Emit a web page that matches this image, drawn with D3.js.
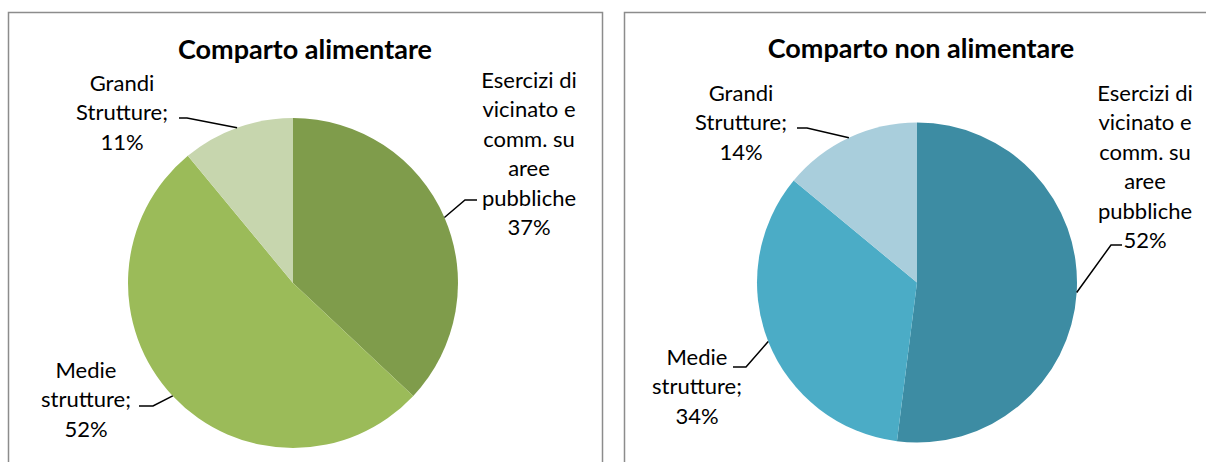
<!DOCTYPE html>
<html>
<head>
<meta charset="utf-8">
<script src="https://cdn.jsdelivr.net/npm/d3@7"></script>
<style>
  html, body { margin: 0; padding: 0; background: #fff; }
  svg { display: block; }
  .title { font-family: Lato, "Open Sans", sans-serif; font-weight: bold; font-size: 27px; fill: #000; }
  .label { font-family: Lato, "Open Sans", sans-serif; font-size: 22px; fill: #000; }
  .leader { fill: none; stroke: #000; stroke-width: 1.5; }
  .frame { fill: #fff; stroke: #8c8c8c; stroke-width: 1.5; }
</style>
</head>
<body>
<div id="chart"></div>
<script>
// data
const categories = ['Esercizi di vicinato e comm. su aree pubbliche', 'Medie strutture', 'Grandi Strutture'];
const labelLines = [
  ['Esercizi di', 'vicinato e', 'comm. su', 'aree', 'pubbliche'],
  ['Medie', 'strutture;'],
  ['Grandi', 'Strutture;']
];
const titles = ['Comparto alimentare', 'Comparto non alimentare'];
const alimentare = [37, 52, 11];
const nonAlimentare = [52, 34, 14];

const greens = ['#7f9c4b', '#9bbb59', '#c7d6ae'];
const blues = ['#3d8ca3', '#4bacc6', '#a9cedc'];

const W = 1206, H = 462;

// layout for each panel (positions only)
const panels = [
  {
    values: alimentare, colors: greens, title: titles[0],
    box: [8.5, 12.5, 594, 470], titleX: 305, titleY: 59,
    cx: 293, cy: 283, r: 165,
    labels: [
      { x: 529, y: 80, elbow: [465, 200], end: [477, 200] },
      { x: 86, y: 370, elbow: [153, 406], end: [139, 406] },
      { x: 122, y: 83, elbow: [187, 118], end: [179, 118] }
    ]
  },
  {
    values: nonAlimentare, colors: blues, title: titles[1],
    box: [624.5, 12.5, 600, 470], titleX: 921, titleY: 58,
    cx: 917, cy: 282.5, r: 160,
    labels: [
      { x: 1145, y: 93, elbow: [1111, 245], end: [1122, 245] },
      { x: 697, y: 357, elbow: [746, 367], end: [733, 367] },
      { x: 741, y: 93, elbow: [807, 128], end: [797, 128] }
    ]
  }
];

const svg = d3.select('#chart').append('svg')
  .attr('width', W)
  .attr('height', H);

const pie = d3.pie().sort(null).value(d => d);
const lineH = 29.5;

panels.forEach(p => {
  const g = svg.append('g');

  g.append('rect')
    .attr('class', 'frame')
    .attr('x', p.box[0]).attr('y', p.box[1])
    .attr('width', p.box[2]).attr('height', p.box[3]);

  g.append('text')
    .attr('class', 'title')
    .attr('x', p.titleX).attr('y', p.titleY)
    .attr('text-anchor', 'middle')
    .text(p.title);

  const arc = d3.arc().innerRadius(0).outerRadius(p.r);
  const edge = d3.arc().innerRadius(p.r).outerRadius(p.r);
  const arcs = pie(p.values);

  const plot = g.append('g')
    .attr('transform', `translate(${p.cx}, ${p.cy})`);

  plot.selectAll('path.slice')
    .data(arcs)
    .enter().append('path')
    .attr('class', 'slice')
    .attr('d', arc)
    .attr('fill', (d, i) => p.colors[i]);

  // leader lines
  g.selectAll('path.leader')
    .data(arcs)
    .enter().append('path')
    .attr('class', 'leader')
    .attr('d', (d, i) => {
      const c = edge.centroid(d);
      const l = p.labels[i];
      return d3.line()([[p.cx + c[0], p.cy + c[1]], l.elbow, l.end]);
    });

  // labels
  arcs.forEach((d, i) => {
    const l = p.labels[i];
    const lines = labelLines[i].concat([d3.format('.0f')(d.value) + '%']);
    const t = g.append('text')
      .attr('class', 'label')
      .attr('text-anchor', 'middle');
    lines.forEach((s, k) => {
      t.append('tspan')
        .attr('x', l.x)
        .attr('y', l.y + k * lineH)
        .attr('dy', '0.35em')
        .text(s);
    });
  });
});
</script>
</body>
</html>
